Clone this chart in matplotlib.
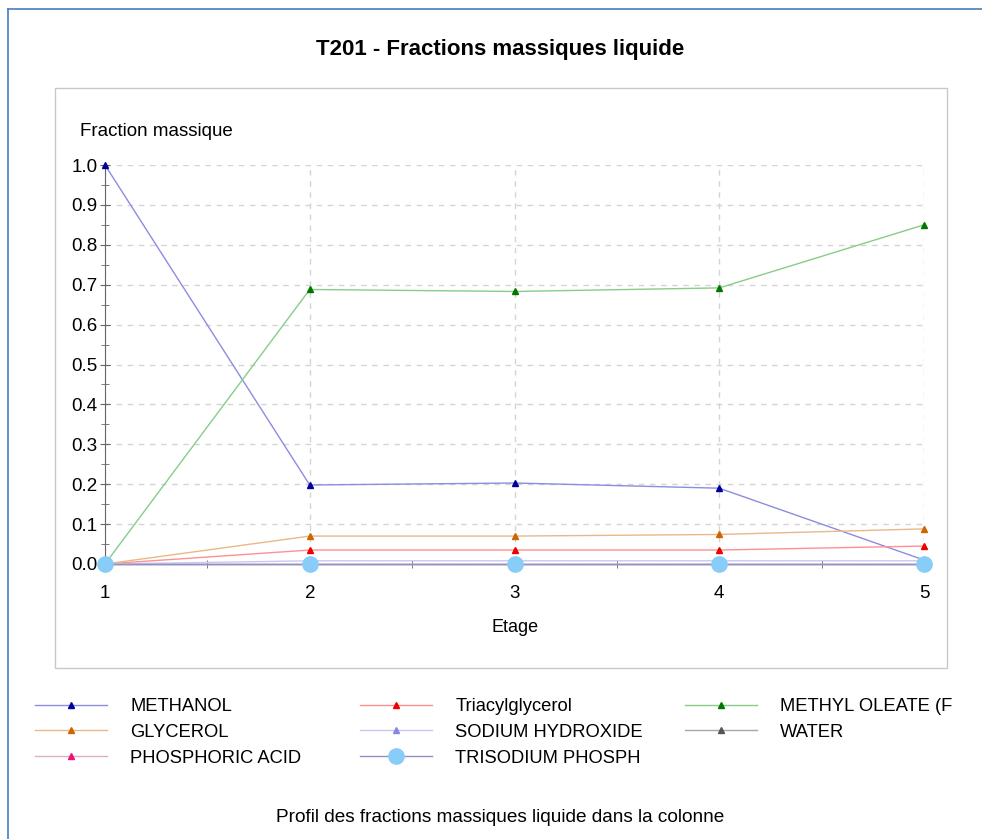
import numpy as np
import matplotlib.pyplot as plt
from matplotlib.lines import Line2D
from matplotlib.patches import Rectangle

plt.rcParams['font.family'] = ['Liberation Sans', 'DejaVu Sans']

# stages and liquid mass fractions
etage = [1, 2, 3, 4, 5]
methanol = [1.0, 0.198, 0.203, 0.190, 0.010]
triacylglycerol = [0.0, 0.035, 0.035, 0.035, 0.045]
methyl_oleate = [0.0, 0.688, 0.683, 0.692, 0.850]
glycerol = [0.0, 0.070, 0.070, 0.074, 0.088]
sodium_hydroxide = [0.0, 0.008, 0.008, 0.008, 0.008]
water = [0.0, 0.0, 0.0, 0.0, 0.0]
phosphoric_acid = [0.0, 0.0, 0.0, 0.0, 0.0]
trisodium_phosph = [0.0, 0.0, 0.0, 0.0, 0.0]

series = [
    ("METHANOL", methanol, '#8c8ce0', '#000099', '^', 5),
    ("Triacylglycerol", triacylglycerol, '#ff9090', '#ee0000', '^', 5),
    ("METHYL OLEATE (F", methyl_oleate, '#88cc88', '#007700', '^', 5),
    ("GLYCEROL", glycerol, '#e8b888', '#cc6600', '^', 5),
    ("SODIUM HYDROXIDE", sodium_hydroxide, '#c8c8f4', '#8888e0', '^', 5),
    ("WATER", water, '#a8a8a8', '#555555', '^', 5),
    ("PHOSPHORIC ACID", phosphoric_acid, '#dcb0c0', '#ee1177', '^', 5),
    ("TRISODIUM PHOSPH", trisodium_phosph, '#9090c8', '#88ccf8', 'o', 11),
]

fig = plt.figure(figsize=(9.82, 8.39), dpi=100)
W, H = 982.0, 839.0

# outer blue frame and inner grey panel
fig.add_artist(Line2D([8 / W, 8 / W], [0, 1 - 9 / H], color='#4a7cc0', lw=1.2))
fig.add_artist(Line2D([8 / W, 1], [1 - 9 / H, 1 - 9 / H], color='#4a7cc0', lw=1.2))
fig.add_artist(Rectangle((55 / W, 1 - 668 / H), (947 - 55) / W, (668 - 88) / H,
                         fill=False, edgecolor='#c8c8c8', lw=1.0))

ax = fig.add_axes([105 / W, 1 - 564 / H, (924 - 105) / W, 399 / H])
handles = {}
for name, vals, lc, mc, mk, ms in series:
    ln, = ax.plot(etage, vals, color=lc, lw=1.0, marker=mk, markersize=ms,
                  markerfacecolor=mc, markeredgecolor=mc, clip_on=False,
                  label=name, zorder=3 if mk == '^' else 4)
    handles[name] = ln

ax.set_xlim(1, 5)
ax.set_ylim(0, 1.0)
ax.set_xticks(etage)
ax.set_xticks([1.5, 2.5, 3.5, 4.5], minor=True)
ax.set_yticks(np.arange(0, 1.01, 0.1))
ax.set_yticks(np.arange(0.05, 1.0, 0.1), minor=True)
ax.set_yticklabels(["%.1f" % v for v in np.arange(0, 1.01, 0.1)])
ax.grid(True, which='major', color='#d4d4d4', linestyle=(0, (4, 4)), lw=1.0)
for s in ['top', 'right']:
    ax.spines[s].set_visible(False)
ax.spines['left'].set_color('#666666')
ax.spines['bottom'].set_color('#666666')
ax.tick_params(axis='both', which='major', labelsize=13.5, direction='inout',
               length=7, color='#666666', pad=2)
ax.tick_params(axis='both', which='minor', direction='inout', length=6,
               color='#666666')
ax.tick_params(axis='x', which='major', length=0, pad=15)

fig.text(80 / W, 1 - 131 / H, "Fraction massique", fontsize=13.5, va='center', ha='left')
fig.text(515 / W, 1 - 627 / H, "Etage", fontsize=13, va='center', ha='center')
fig.text(500 / W, 1 - 50 / H, "T201 - Fractions massiques liquide", fontsize=16,
         fontweight='bold', va='center', ha='center')
fig.text(500 / W, 1 - 817 / H, "Profil des fractions massiques liquide dans la colonne",
         fontsize=13.7, va='center', ha='center')

columns = [
    (35, ["METHANOL", "GLYCEROL", "PHOSPHORIC ACID"]),
    (360, ["Triacylglycerol", "SODIUM HYDROXIDE", "TRISODIUM PHOSPH"]),
    (685, ["METHYL OLEATE (F", "WATER"]),
]
for x0, names in columns:
    fig.legend([handles[n] for n in names], names, loc='upper left',
               bbox_to_anchor=(x0 / W, 1 - 698 / H), frameon=False,
               fontsize=13.2, handlelength=3.9, handletextpad=1.3,
               borderpad=0, borderaxespad=0, labelspacing=0.48)

fig.savefig('out.png', dpi=100)
